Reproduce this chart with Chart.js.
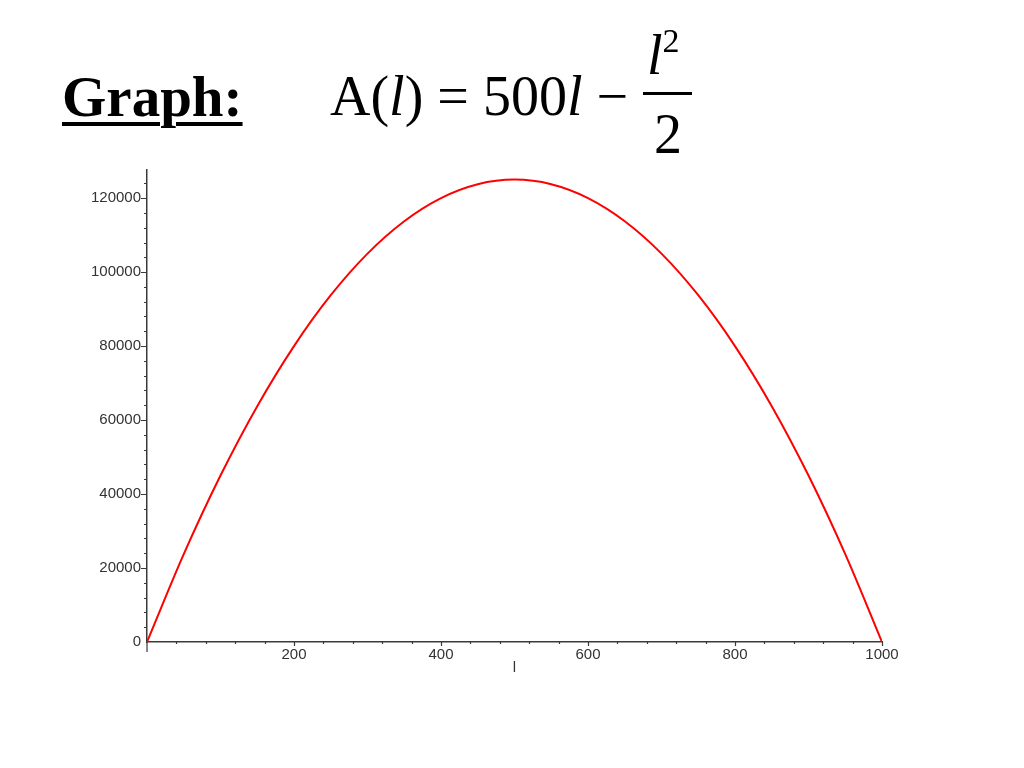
<!DOCTYPE html>
<html>
<head>
<meta charset="utf-8">
<script src="https://cdn.jsdelivr.net/npm/chart.js@4"></script>
<style>
  body { margin: 0; background: #fff; }
  #page { position: relative; width: 1024px; height: 768px; overflow: hidden; }
  #chartBox { position: absolute; left: 0; top: 0; width: 1024px; height: 768px; }
  .t { position: absolute; font-family: "Liberation Serif", "Times New Roman", serif; color: #000; white-space: nowrap; line-height: 1; }
  #graph { left: 62px; top: 68px; font-size: 57px; font-weight: bold; text-decoration: underline; text-decoration-thickness: 4px; text-underline-offset: 6px; }
  #formula { left: 330px; top: 68px; font-size: 56px; }
  #num { left: 647px; top: 24px; font-size: 56px; }
  #bar { position: absolute; left: 643px; top: 92px; width: 49px; height: 3px; background: #000; }
  #den { left: 654px; top: 106px; font-size: 56px; }
  i { font-style: italic; }
</style>
</head>
<body>
<div id="page">
  <div id="chartBox"><canvas id="chart" width="1024" height="768"></canvas></div>
  <div class="t" id="graph">Graph:</div>
  <div class="t" id="formula">A(<i>l</i>) = 500<i>l</i> − </div>
  <div class="t" id="num"><i>l</i><sup style="font-size:34px;vertical-align:22px">2</sup></div>
  <div id="bar"></div>
  <div class="t" id="den">2</div>
</div>
<script>
// valores
const lengths = [0, 50, 100, 150, 200, 250, 300, 350, 400, 450, 500,
  550, 600, 650, 700, 750, 800, 850, 900, 950, 1000];
const areas = [0, 23750, 45000, 63750, 80000, 93750, 105000, 113750, 120000, 123750, 125000,
  123750, 120000, 113750, 105000, 93750, 80000, 63750, 45000, 23750, 0];
const xTicks = [200, 400, 600, 800, 1000];
const yTicks = [0, 20000, 40000, 60000, 80000, 100000, 120000];

const axisColor = '#3a3a3a';
const labelColor = '#333';
const labelFont = { family: 'Liberation Sans, Arial, sans-serif', size: 15 };

// marcas menores y mayores estilo Maple
const minorTicks = {
  id: 'minorTicks',
  afterDraw(chart) {
    const ctx = chart.ctx;
    const xs = chart.scales.x;
    const ys = chart.scales.y;
    const x0 = xs.getPixelForValue(0);
    const y0 = ys.getPixelForValue(0);
    ctx.save();
    ctx.strokeStyle = axisColor;
    ctx.lineWidth = 1.2;
    ctx.beginPath();
    for (let v = 40; v <= 1000; v += 40) {
      const px = Math.round(xs.getPixelForValue(v)) + 0.5;
      const len = v % 200 === 0 ? 4 : 2;
      ctx.moveTo(px, y0);
      ctx.lineTo(px, y0 + len);
    }
    for (let v = 4000; v <= ys.max; v += 4000) {
      const py = Math.round(ys.getPixelForValue(v)) + 0.5;
      const len = v % 20000 === 0 ? 6 : 3;
      ctx.moveTo(x0, py);
      ctx.lineTo(x0 - len, py);
    }
    // prolongacion del eje y por debajo
    ctx.moveTo(x0, y0);
    ctx.lineTo(x0, y0 + 10);
    ctx.stroke();
    ctx.restore();
  }
};

new Chart(document.getElementById('chart'), {
  type: 'scatter',
  data: {
    datasets: [{
      data: lengths.map((l, i) => ({ x: l, y: areas[i] })),
      showLine: true,
      borderColor: '#ff0000',
      borderWidth: 2,
      pointRadius: 0,
      cubicInterpolationMode: 'monotone'
    }]
  },
  options: {
    responsive: false,
    animation: false,
    events: [],
    layout: { padding: { left: 0, top: 170, right: 142, bottom: 86 } },
    plugins: { legend: { display: false }, tooltip: { enabled: false } },
    scales: {
      x: {
        type: 'linear',
        min: 0,
        max: 1000,
        afterBuildTicks: s => { s.ticks = xTicks.map(v => ({ value: v })); },
        afterFit: s => { s.height = 40; },
        grid: { display: true, drawOnChartArea: false, drawTicks: false },
        border: { display: true, color: axisColor, width: 1.5 },
        ticks: {
          autoSkip: false, maxRotation: 0, padding: 4,
          color: labelColor, font: labelFont,
          callback: v => String(v)
        },
        title: {
          display: true, text: 'l', color: labelColor, font: labelFont,
          padding: { top: 0, bottom: 5 }
        }
      },
      y: {
        type: 'linear',
        min: 0,
        max: 127600,
        afterBuildTicks: s => { s.ticks = yTicks.map(v => ({ value: v })); },
        afterFit: s => { s.width = 147; },
        grid: { display: true, drawOnChartArea: false, drawTicks: false },
        border: { display: true, color: axisColor, width: 1.5 },
        ticks: {
          autoSkip: false, padding: 6,
          color: labelColor, font: labelFont,
          callback: v => String(v)
        }
      }
    }
  },
  plugins: [minorTicks]
});
</script>
</body>
</html>
